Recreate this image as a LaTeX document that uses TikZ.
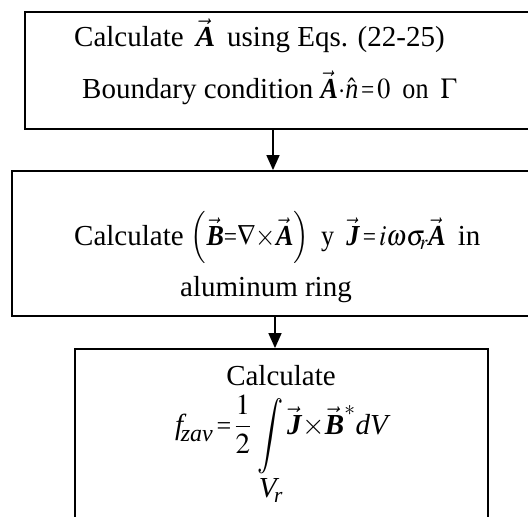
\documentclass[tikz,border=0pt]{standalone}
\usepackage{amsmath}
\usepackage{graphicx}
\usepackage{mathptmx}
\usepackage{fontspec}
\setmainfont{Liberation Serif}
\usetikzlibrary{arrows.meta}
\newcommand\bv[1]{\vec{\textbf{\textit{#1}}}}
\newcommand\tq{\mathord{\scalebox{0.9}{=}}}
\newcommand\nx[1]{\scalebox{0.9}[1]{#1}}
\tikzset{
  box/.style={draw, line width=1.8pt, rectangle, inner sep=0pt},
  txt/.style={anchor=base west, inner sep=0pt, font=\fontsize{29}{34}\selectfont},
  arr/.style={line width=1.5pt, -{Triangle[width=13pt,length=15pt]}}
}
\begin{document}
\begin{tikzpicture}[x=1pt,y=-1pt]
\useasboundingbox (0,0) rectangle (528,517);
\clip (0,0) rectangle (528,517);
\fill[white] (0,0) rectangle (528,517);
\node[box, minimum width=515pt, minimum height=117pt] (b1) at (282.5,70.5) {};
\node[box, minimum width=528pt, minimum height=145pt] (b2) at (276,243.5) {};
\node[box, minimum width=413pt, minimum height=181pt] (b3) at (281.5,439.5) {};
\node[txt] (t1a) at (74,46) {Calculate\ \,$\bv{A}$\ \,using Eqs. (22-25)};
\node[txt] (t1b) at (82,98) {Boundary condition\ \nx{$\bv{A}{\cdot}\hat{\textit{n}}\,\tq\,0$}\ \,\nx{on}\ \,\nx{$\Gamma$}};
\node[txt] (t2a) at (74,245) {Calculate \nx{$\left(\bv{B}{\tq}\nabla{\times}\bv{A}\right)$}\ \,\nx{y}\ \,\nx{$\bv{J}\,\tq\, i\omega\sigma_{\!r}\bv{A}$}\ \,in};
\node[txt] (t2b) at (180,296) {aluminum ring};
\node[txt, anchor=base] (t3a) at (281,385) {Calculate};
\node[txt] (t3b) at (175,434) {$\displaystyle \textit{f}_{\!\textit{\fontsize{24}{24}\selectfont zav}} \,\tq\, \frac{1}{2}\,\mathop{\raisebox{-0.25\height}{\scalebox{1}[1.3]{$\displaystyle\int$}}}\limits_{\textstyle \textit{V}_{\!\textit{r}}}\bv{J}{\times}\bv{B}^{\boldsymbol{*}}\textit{dV}$};
\coordinate (c1) at (273,0);
\coordinate (c2) at (275,0);
\draw[arr] (c1 |- b1.south) -- (c1 |- b2.north);
\draw[arr] (c2 |- b2.south) -- (c2 |- b3.north);
\end{tikzpicture}
\end{document}
